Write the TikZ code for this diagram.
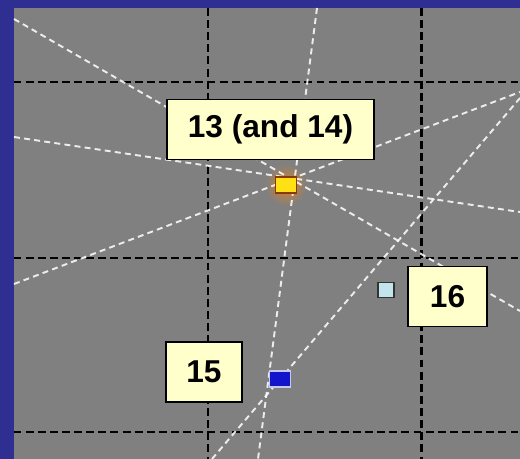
\documentclass[tikz,border=0pt]{standalone}
\usepackage{fontspec}
\setmainfont{Liberation Sans}
\usepackage{xcolor}
\usepackage{tikz}

\definecolor{slideblue}{HTML}{2F2F91}
\definecolor{panelgray}{HTML}{808080}
\definecolor{notefill}{HTML}{FFFFCC}
\definecolor{hityellow}{HTML}{FFE014}
\definecolor{hitedge}{HTML}{8A3A00}
\definecolor{hitblue}{HTML}{1414CC}
\definecolor{hitrim}{HTML}{C8C8F0}
\definecolor{hitcyan}{HTML}{C2E4EA}

\begin{document}
\begin{tikzpicture}[
    x=0.02cm, y=-0.02cm,
    grid/.style={draw=black, line width=1.2pt, dash pattern=on 4.5pt off 2.4pt},
    ray/.style={draw=white, line width=1.1pt, opacity=0.85,
        dash pattern=on 3.4pt off 2.4pt},
    tag/.style={
        draw, fill=notefill, line width=0.7pt,
        minimum height=1.2cm, inner sep=2pt,
        font=\bfseries\fontsize{18}{20}\selectfont
    },
    hit/.style={draw, line width=0.8pt, inner sep=0pt,
        minimum width=0.42cm, minimum height=0.32cm}
]
    \useasboundingbox (0, 0) rectangle (520, 459);
    \fill[slideblue] (0, 0) rectangle (520, 459);
    \fill[panelgray] (13.5, 8) rectangle (520, 459);

    \shade[inner color=orange!70!panelgray, outer color=panelgray]
        (286, 185) circle (0.42cm);

    \foreach \gx in {208, 421}
        \draw[grid, line width=1.7pt] (\gx, 8) -- (\gx, 459);
    \foreach \gy in {82, 258, 432}
        \draw[grid] (13.5, \gy) -- (520, \gy);

    \coordinate (r1a) at (14, 19);   \coordinate (r1b) at (520, 311);
    \coordinate (r2a) at (14, 137);  \coordinate (r2b) at (520, 212);
    \coordinate (r3a) at (14, 284);  \coordinate (r3b) at (520, 92);
    \coordinate (r4a) at (317, 8);   \coordinate (r4b) at (258, 459);
    \coordinate (r5a) at (212, 459); \coordinate (r5b) at (520, 98);

    \draw[ray] (r1a) -- (r1b);
    \draw[ray] (r2a) -- (r2b);
    \draw[ray] (r3a) -- (r3b);
    \draw[ray] (r4a) -- (r4b);
    \draw[ray] (r5a) -- (r5b);

    \node[hit, fill=hityellow, draw=hitedge] (sq13) at (286, 185) {};
    \node[hit, fill=hitblue, draw=hitrim] (sq15) at (280, 379) {};
    \node[hit, fill=hitcyan, draw=black!80, minimum width=0.32cm,
        minimum height=0.3cm] (sq16) at (386, 290) {};

    \node[tag, minimum width=4.14cm] (lab13) at (270.5, 129.5) {13 (and 14)};
    \node[tag, minimum width=1.52cm] (lab15) at (204, 372) {15};
    \node[tag, minimum width=1.58cm] (lab16) at (447.5, 296.5) {16};
\end{tikzpicture}
\end{document}
